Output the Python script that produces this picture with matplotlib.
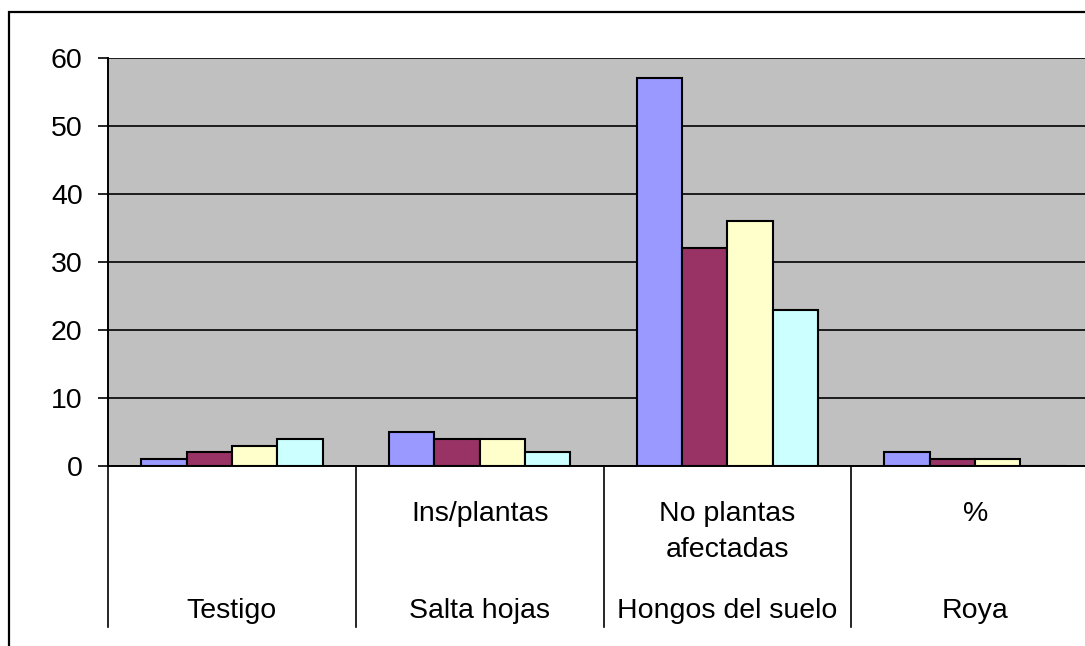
import matplotlib
matplotlib.use("Agg")
from matplotlib import pyplot as plt
from matplotlib.patches import Rectangle


# Chart data
groups_bottom = ["Testigo", "Salta hojas", "Hongos del suelo", "Roya"]
groups_top = ["", "Ins/plantas", "No plantas\nafectadas", "%"]
series_a = [1, 2, 3, 4]
series_b = [5, 4, 4, 2]
series_c = [57, 32, 36, 23]
series_d = [2, 1, 1, 0]
yticks = [0, 10, 20, 30, 40, 50, 60]

# Each list above is one category group; bars inside a group use these colours
colors = ["#9999FF", "#993366", "#FFFFCC", "#CCFFFF"]

plt.rcParams["font.family"] = ["Liberation Sans", "DejaVu Sans"]
FS = 20.5

W, H = 1085, 646
fig = plt.figure(figsize=(W / 100, H / 100), dpi=100)

# outer chart border (cut off on the right and bottom, like the original)
fig.patches.append(Rectangle((9 / W, -0.1), 1.2, 1 - 12 / H + 0.1,
                             transform=fig.transFigure, fill=False,
                             edgecolor="black", linewidth=1.6))

x0, x1, ytop, ybot = 108, 1099, 58, 466
ax = fig.add_axes([x0 / W, 1 - ybot / H, (x1 - x0) / W, (ybot - ytop) / H])
ax.set_facecolor("#C0C0C0")

width = 0.183
data = [series_a, series_b, series_c, series_d]
for i, group in enumerate(data):
    offsets = [(k - 1.5) * width for k in range(len(group))]
    xs = [i + o for o in offsets]
    ax.bar(xs, group, width=width, color=colors, edgecolor="black",
           linewidth=1.5, zorder=3)

ax.set_xlim(-0.5, 3.5)
ax.set_ylim(0, 60)
ax.set_yticks(yticks)
ax.set_yticklabels([str(t) for t in yticks], fontsize=FS)
ax.tick_params(axis="y", length=7.2, width=1.2, pad=11, direction="out")
ax.set_xticks([])
ax.yaxis.grid(True, color="black", linewidth=1.2, zorder=1)
ax.set_axisbelow(True)

for side in ["top", "right"]:
    ax.spines[side].set_visible(False)
ax.spines["left"].set_linewidth(1.4)
ax.spines["bottom"].set_linewidth(1.4)
ax.spines["bottom"].set_zorder(4)

# multi-level category axis
trans = ax.get_xaxis_transform()
axh = ybot - ytop
sep_bottom = (ybot - 627) / axh
for sx in [-0.5, 0.5, 1.5, 2.5, 3.5]:
    ax.plot([sx, sx], [0, sep_bottom], color="black", linewidth=1.2,
            transform=trans, clip_on=False)

line_step = 36
for i, label in enumerate(groups_top):
    for j, line in enumerate(label.split("\n")):
        yp = 521 + j * line_step
        ax.text(i, (ybot - yp) / axh, line, transform=trans, ha="center",
                va="baseline", fontsize=FS)
for i, label in enumerate(groups_bottom):
    ax.text(i, (ybot - 618) / axh, label, transform=trans, ha="center",
            va="baseline", fontsize=FS)

fig.savefig("out.png", dpi=100)
